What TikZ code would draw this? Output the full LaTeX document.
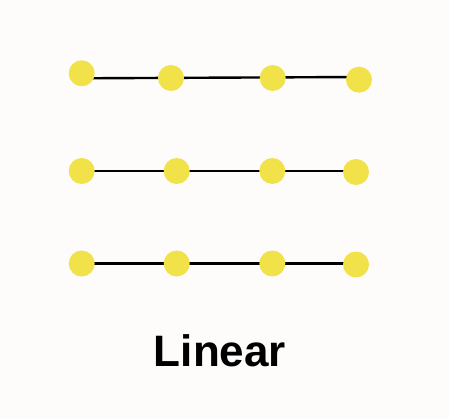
\documentclass[tikz,border=0pt]{standalone}
\usepackage{fontspec}
\setmainfont{Liberation Sans}
\begin{document}
\begin{tikzpicture}[x=1pt,y=-1pt,
  dot/.style={circle,fill=dotyellow,draw=none,minimum size=26pt,inner sep=0pt},
  link/.style={draw=black,line width=2.4pt}]
\definecolor{bgc}{HTML}{FDFCFA}
\definecolor{dotyellow}{HTML}{F2E24A}
\fill[bgc] (0,0) rectangle (449,419);
\useasboundingbox (0,0) rectangle (449,419);
% row 1
\coordinate (l1s) at (81.7,78.3);
\coordinate (l1e) at (359,77);
\draw[link] (l1s) -- (l1e);
\node[dot] (a1) at (81.7,73.3) {};
\node[dot] (a2) at (171,78) {};
\node[dot] (a3) at (272.7,78) {};
\node[dot] (a4) at (359,79.7) {};
% row 2
\node[dot,fill=none] (b1) at (81.7,171) {};
\node[dot,fill=none] (b2) at (176.7,171) {};
\node[dot,fill=none] (b3) at (272.3,171) {};
\node[dot,fill=none] (b4) at (356,172) {};
\draw[link] (b1.center) -- (b2.center) -- (b3.center) -- (b4.center |- b3.center);
\foreach \n in {b1,b2,b3,b4} \fill[dotyellow] (\n) circle[radius=13];
% row 3
\node[dot,fill=none] (c1) at (81.7,263.5) {};
\node[dot,fill=none] (c2) at (176.7,263.5) {};
\node[dot,fill=none] (c3) at (272.3,263.5) {};
\node[dot,fill=none] (c4) at (356,264.5) {};
\draw[link] (c1.center) -- (c2.center) -- (c3.center) -- (c4.center |- c3.center);
\foreach \n in {c1,c2,c3,c4} \fill[dotyellow] (\n) circle[radius=13];
\node[anchor=base,inner sep=0pt,font=\fontsize{44}{44}\selectfont\bfseries] (title) at (220,366) {Linear};
\end{tikzpicture}
\end{document}
